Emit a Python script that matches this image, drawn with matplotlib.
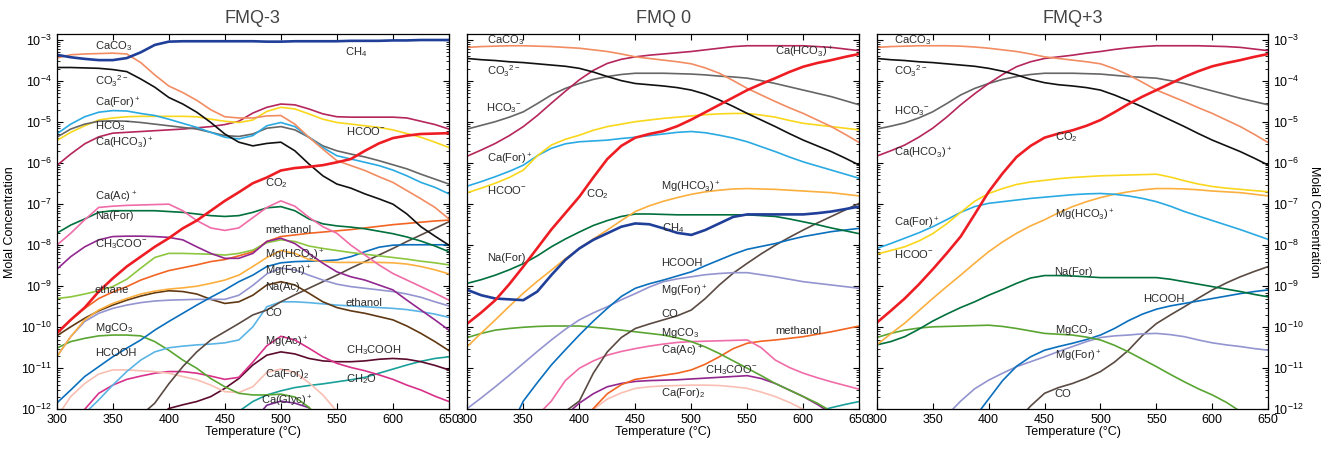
import numpy as np
import matplotlib.pyplot as plt
from matplotlib.ticker import LogLocator, NullFormatter, LogFormatterMathtext

plt.rcParams['font.family'] = ['Liberation Sans', 'DejaVu Sans']
plt.rcParams['mathtext.fontset'] = 'custom'
plt.rcParams['mathtext.rm'] = 'Liberation Sans'
plt.rcParams['mathtext.it'] = 'Liberation Sans:italic'
plt.rcParams['mathtext.bf'] = 'Liberation Sans:bold'

# temperatures (deg C); all species values below are log10 molal concentrations
temps = [300, 312.5, 325, 337.5, 350, 362.5, 375, 387.5, 400, 412.5, 425, 437.5, 450, 462.5, 475,
         487.5, 500, 512.5, 525, 537.5, 550, 562.5, 575, 587.5, 600, 612.5, 625, 637.5, 650]

# ---- FMQ-3 ----
ch4_a = [-3.36, -3.42, -3.46, -3.49, -3.49, -3.44, -3.30, -3.12, -3.04, -3.03, -3.03, -3.03, -3.03, -3.03, -3.03,
         -3.04, -3.04, -3.03, -3.03, -3.03, -3.03, -3.02, -3.02, -3.02, -3.01, -3.01, -3.00, -3.00, -3.00]
caco3_a = [-3.44, -3.36, -3.34, -3.33, -3.32, -3.34, -3.55, -3.85, -4.12, -4.28, -4.47, -4.70, -4.87, -4.90, -4.90,
           -4.85, -4.84, -5.05, -5.37, -5.66, -5.94, -6.06, -6.18, -6.33, -6.47, -6.67, -6.87, -7.08, -7.36]
co3_a = [-3.67, -3.67, -3.68, -3.69, -3.72, -3.77, -3.95, -4.15, -4.40, -4.56, -4.76, -5.01, -5.29, -5.49, -5.58,
         -5.52, -5.49, -5.70, -6.02, -6.31, -6.51, -6.61, -6.75, -6.87, -7.00, -7.24, -7.55, -7.78, -8.00]
cafor_a = [-5.29, -5.05, -4.87, -4.76, -4.72, -4.73, -4.79, -4.84, -4.93, -5.03, -5.13, -5.25, -5.37, -5.41, -5.33,
           -5.09, -5.01, -5.11, -5.37, -5.62, -5.82, -5.90, -5.98, -6.06, -6.17, -6.31, -6.47, -6.59, -6.75]
hco3_a = [-5.37, -5.17, -5.05, -4.98, -4.97, -4.98, -5.01, -5.05, -5.09, -5.13, -5.17, -5.25, -5.33, -5.35, -5.29,
          -5.15, -5.11, -5.19, -5.37, -5.58, -5.70, -5.78, -5.85, -5.94, -6.04, -6.14, -6.27, -6.39, -6.51]
hcoo_a = [-5.45, -5.25, -5.09, -4.95, -4.90, -4.87, -4.86, -4.86, -4.86, -4.86, -4.87, -4.93, -4.98, -5.01, -4.95,
          -4.74, -4.64, -4.68, -4.80, -4.93, -5.01, -5.05, -5.09, -5.13, -5.19, -5.28, -5.37, -5.49, -5.62]
cahco3_a = [-6.06, -5.78, -5.53, -5.36, -5.27, -5.25, -5.23, -5.21, -5.19, -5.17, -5.14, -5.11, -5.06, -4.98, -4.78,
            -4.64, -4.56, -4.58, -4.68, -4.80, -4.87, -4.88, -4.88, -4.88, -4.88, -4.90, -4.98, -5.06, -5.17]
co2_a = [-10.15, -9.82, -9.52, -9.13, -8.81, -8.52, -8.28, -8.04, -7.83, -7.59, -7.40, -7.16, -6.92, -6.71, -6.49,
         -6.35, -6.18, -6.12, -6.09, -6.05, -5.98, -5.90, -5.70, -5.52, -5.39, -5.33, -5.29, -5.28, -5.27]
caac_a = [-8.00, -7.71, -7.38, -7.08, -7.05, -7.03, -7.02, -7.01, -7.00, -7.16, -7.40, -7.58, -7.64, -7.58, -7.33,
          -7.08, -6.92, -7.05, -7.32, -7.55, -7.71, -8.00, -8.24, -8.48, -8.69, -8.85, -9.01, -9.17, -9.34]
nafor_a = [-7.71, -7.51, -7.36, -7.20, -7.16, -7.16, -7.16, -7.16, -7.18, -7.20, -7.24, -7.28, -7.30, -7.28, -7.20,
           -7.09, -7.06, -7.16, -7.36, -7.48, -7.53, -7.56, -7.60, -7.66, -7.72, -7.80, -7.90, -8.02, -8.16]
ch3coo_a = [-8.59, -8.28, -8.04, -7.87, -7.79, -7.78, -7.78, -7.79, -7.81, -7.87, -8.04, -8.20, -8.32, -8.32, -8.20,
            -7.91, -7.83, -7.96, -8.20, -8.44, -8.65, -8.77, -8.85, -8.97, -9.09, -9.34, -9.58, -9.82, -10.07]
ethane_a = [-9.30, -9.26, -9.19, -9.11, -9.01, -8.83, -8.56, -8.30, -8.20, -8.20, -8.21, -8.22, -8.24, -8.20, -8.12,
            -7.94, -7.87, -7.91, -8.02, -8.08, -8.13, -8.18, -8.22, -8.26, -8.30, -8.34, -8.39, -8.43, -8.48]
methanol_a = [-10.15, -9.82, -9.54, -9.30, -9.14, -9.01, -8.85, -8.73, -8.62, -8.55, -8.48, -8.40, -8.35, -8.26, -8.16,
              -7.91, -7.79, -7.75, -7.71, -7.68, -7.65, -7.62, -7.58, -7.54, -7.50, -7.47, -7.44, -7.41, -7.39]
mghco3_a = [-10.72, -10.23, -9.82, -9.58, -9.42, -9.30, -9.19, -9.12, -9.07, -9.04, -9.00, -8.93, -8.85, -8.73, -8.52,
            -8.30, -8.13, -8.20, -8.35, -8.40, -8.42, -8.42, -8.42, -8.42, -8.43, -8.46, -8.52, -8.60, -8.70]
hcooh_a = [-11.85, -11.53, -11.20, -10.96, -10.72, -10.51, -10.31, -10.07, -9.86, -9.66, -9.46, -9.27, -9.09, -8.89, -8.73,
           -8.52, -8.43, -8.40, -8.39, -8.38, -8.36, -8.28, -8.16, -8.05, -8.00, -7.99, -7.99, -7.99, -7.99]
mgfor_a = [-10.72, -10.23, -9.86, -9.66, -9.54, -9.46, -9.40, -9.36, -9.34, -9.33, -9.32, -9.32, -9.32, -9.22, -8.98,
           -8.70, -8.56, -8.60, -8.73, -8.85, -8.95, -9.01, -9.05, -9.09, -9.13, -9.19, -9.27, -9.38, -9.48]
naac_a = [-10.21, -9.99, -9.78, -9.60, -9.46, -9.34, -9.24, -9.16, -9.11, -9.13, -9.19, -9.32, -9.42, -9.38, -9.22,
          -8.97, -8.89, -8.97, -9.17, -9.38, -9.52, -9.60, -9.66, -9.74, -9.82, -9.97, -10.15, -10.35, -10.57]
co_a = [-14.60, -14.20, -13.80, -13.40, -13.00, -12.60, -12.15, -11.85, -11.38, -10.96, -10.60, -10.31, -10.11, -9.91, -9.70,
        -9.58, -9.38, -9.21, -9.05, -8.89, -8.73, -8.56, -8.40, -8.24, -8.08, -7.91, -7.75, -7.59, -7.43]
ethanol_a = [-13.50, -13.00, -12.10, -11.77, -11.41, -11.08, -10.80, -10.60, -10.50, -10.46, -10.43, -10.41, -10.38, -10.31, -9.99,
             -9.50, -9.38, -9.38, -9.40, -9.43, -9.46, -9.48, -9.50, -9.52, -9.54, -9.57, -9.62, -9.68, -9.76]
mgco3_a = [-10.51, -10.35, -10.27, -10.21, -10.19, -10.19, -10.21, -10.35, -10.56, -10.80, -11.00, -11.25, -11.45, -11.61, -11.65,
           -11.65, -11.63, -11.70, -11.95, -12.30, -12.70, -13.10, -13.50, -13.90, -14.30, -14.70, -15.10, -15.50, -15.90]
cafor2_a = [-12.20, -11.69, -11.37, -11.14, -11.04, -11.04, -11.06, -11.08, -11.12, -11.20, -11.28, -11.41, -11.57, -11.59, -11.45,
            -11.10, -11.02, -11.10, -11.35, -11.65, -12.05, -12.50, -12.90, -13.40, -13.90, -14.40, -14.90, -15.40, -15.90]
mgac_a = [-13.00, -12.50, -12.00, -11.61, -11.41, -11.27, -11.19, -11.12, -11.08, -11.08, -11.12, -11.19, -11.27, -11.22, -10.85,
          -10.45, -10.22, -10.31, -10.51, -10.72, -10.88, -10.98, -11.06, -11.16, -11.27, -11.41, -11.53, -11.68, -11.81]
ch3cooh_a = [-15.00, -14.60, -14.20, -13.80, -13.40, -13.00, -12.60, -12.25, -11.98, -11.89, -11.81, -11.69, -11.49, -11.25, -10.92,
             -10.68, -10.60, -10.65, -10.76, -10.82, -10.84, -10.84, -10.82, -10.78, -10.76, -10.78, -10.84, -10.93, -11.04]
ch2o_a = [-16.00, -15.60, -15.20, -14.80, -14.40, -14.00, -13.60, -13.20, -13.00, -12.95, -12.90, -12.65, -12.40, -12.05, -11.81,
          -11.65, -11.55, -11.47, -11.42, -11.38, -11.33, -11.28, -11.22, -11.12, -11.02, -10.92, -10.83, -10.76, -10.72]
caglyc_a = [-17.00, -16.60, -16.20, -15.80, -15.40, -15.00, -14.60, -14.20, -13.80, -13.40, -13.00, -12.80, -12.70, -12.60, -12.30,
            -11.90, -11.80, -11.85, -11.96, -12.40, -12.90, -13.40, -13.90, -14.40, -14.90, -15.40, -15.90, -16.40, -16.90]

# ---- FMQ 0 ----
caco3_b = [-3.18, -3.16, -3.15, -3.14, -3.14, -3.15, -3.16, -3.18, -3.20, -3.24, -3.28, -3.34, -3.41, -3.45, -3.49,
           -3.53, -3.58, -3.68, -3.81, -3.99, -4.18, -4.34, -4.50, -4.65, -4.79, -4.95, -5.11, -5.30, -5.50]
co3_b = [-3.45, -3.48, -3.50, -3.53, -3.55, -3.58, -3.61, -3.64, -3.69, -3.78, -3.89, -3.99, -4.06, -4.09, -4.12,
         -4.16, -4.22, -4.32, -4.46, -4.62, -4.79, -4.95, -5.11, -5.28, -5.44, -5.58, -5.72, -5.88, -6.05]
cahco3_b = [-5.83, -5.68, -5.52, -5.33, -5.11, -4.84, -4.54, -4.25, -3.97, -3.74, -3.57, -3.47, -3.41, -3.37, -3.34,
            -3.31, -3.28, -3.24, -3.20, -3.16, -3.14, -3.14, -3.14, -3.14, -3.14, -3.16, -3.18, -3.22, -3.26]
hco3_b = [-5.17, -5.08, -4.99, -4.88, -4.75, -4.55, -4.34, -4.18, -4.06, -3.96, -3.89, -3.84, -3.81, -3.81, -3.81,
          -3.82, -3.83, -3.85, -3.88, -3.90, -3.93, -3.99, -4.06, -4.14, -4.22, -4.30, -4.38, -4.48, -4.58]
hcoo_b = [-6.72, -6.61, -6.49, -6.35, -6.17, -5.82, -5.56, -5.42, -5.32, -5.20, -5.11, -5.05, -4.99, -4.95, -4.91,
          -4.88, -4.85, -4.82, -4.80, -4.79, -4.79, -4.83, -4.88, -4.96, -5.03, -5.07, -5.11, -5.15, -5.19]
cafor_b = [-6.56, -6.45, -6.33, -6.20, -6.05, -5.82, -5.64, -5.53, -5.48, -5.46, -5.44, -5.40, -5.37, -5.33, -5.29,
           -5.25, -5.23, -5.26, -5.32, -5.39, -5.48, -5.60, -5.72, -5.85, -5.97, -6.07, -6.17, -6.27, -6.37]
co2_b = [-9.91, -9.64, -9.34, -8.95, -8.52, -8.07, -7.62, -7.22, -6.82, -6.35, -5.90, -5.58, -5.38, -5.29, -5.22,
         -5.10, -4.94, -4.76, -4.58, -4.40, -4.22, -4.07, -3.93, -3.78, -3.65, -3.56, -3.49, -3.41, -3.34]
mghco3_b = [-10.47, -10.14, -9.82, -9.49, -9.17, -8.88, -8.61, -8.33, -8.08, -7.85, -7.63, -7.40, -7.18, -7.04, -6.93,
            -6.84, -6.76, -6.70, -6.66, -6.63, -6.62, -6.63, -6.64, -6.66, -6.68, -6.70, -6.72, -6.76, -6.80]
nafor_b = [-8.93, -8.84, -8.73, -8.60, -8.45, -8.26, -8.04, -7.85, -7.68, -7.52, -7.40, -7.30, -7.24, -7.24, -7.25,
           -7.26, -7.26, -7.26, -7.26, -7.26, -7.26, -7.28, -7.30, -7.36, -7.43, -7.50, -7.58, -7.65, -7.72]
ch4_b = [-9.09, -9.22, -9.30, -9.32, -9.34, -9.13, -8.73, -8.36, -8.08, -7.87, -7.71, -7.55, -7.47, -7.49, -7.59,
         -7.70, -7.75, -7.63, -7.47, -7.31, -7.25, -7.25, -7.25, -7.25, -7.25, -7.22, -7.18, -7.12, -7.06]
hcooh_b = [-14.40, -13.80, -13.20, -12.50, -11.80, -11.35, -10.92, -10.55, -10.19, -9.85, -9.54, -9.25, -9.05, -8.94, -8.85,
           -8.75, -8.65, -8.50, -8.36, -8.22, -8.10, -8.03, -7.96, -7.87, -7.79, -7.73, -7.67, -7.63, -7.59]
mgfor_b = [-11.98, -11.72, -11.45, -11.17, -10.88, -10.59, -10.31, -10.05, -9.82, -9.65, -9.50, -9.33, -9.18, -9.02, -8.89,
           -8.82, -8.77, -8.72, -8.69, -8.67, -8.67, -8.72, -8.77, -8.83, -8.89, -8.93, -8.97, -9.01, -9.05]
co_b = [-16.00, -15.60, -15.20, -14.80, -14.40, -13.50, -12.60, -12.05, -11.80, -11.12, -10.60, -10.25, -10.03, -9.92, -9.82,
        -9.72, -9.58, -9.30, -8.97, -8.68, -8.44, -8.21, -8.00, -7.81, -7.63, -7.46, -7.30, -7.14, -6.98]
mgco3_b = [-10.25, -10.15, -10.07, -10.03, -10.00, -9.98, -9.97, -9.97, -9.97, -10.00, -10.03, -10.07, -10.11, -10.15, -10.19,
           -10.26, -10.35, -10.48, -10.64, -10.82, -11.00, -11.18, -11.37, -11.53, -11.69, -11.85, -12.05, -12.30, -12.60]
caac_b = [-14.50, -14.00, -13.50, -13.00, -12.50, -12.15, -11.80, -11.30, -11.00, -10.82, -10.68, -10.59, -10.52, -10.46, -10.41,
          -10.37, -10.35, -10.34, -10.33, -10.32, -10.31, -10.50, -10.80, -10.98, -11.12, -11.23, -11.33, -11.42, -11.51]
methanol_b = [-16.00, -15.60, -15.20, -14.80, -14.40, -14.00, -13.60, -12.80, -12.40, -11.98, -11.62, -11.40, -11.27, -11.22, -11.17,
              -11.12, -11.04, -10.90, -10.72, -10.52, -10.39, -10.34, -10.31, -10.27, -10.23, -10.17, -10.11, -10.04, -9.97]
ch3coo_b = [-16.00, -15.60, -15.20, -14.80, -14.40, -13.50, -12.60, -12.15, -11.85, -11.62, -11.45, -11.37, -11.32, -11.30, -11.29,
            -11.28, -11.26, -11.24, -11.22, -11.20, -11.18, -11.25, -11.37, -11.53, -11.69, -11.88, -12.10, -12.30, -12.50]
cafor2_b = [-16.00, -15.60, -15.20, -14.80, -14.40, -14.00, -13.20, -12.70, -12.30, -12.00, -11.75, -11.60, -11.49, -11.45, -11.43,
            -11.42, -11.41, -11.41, -11.42, -11.45, -11.49, -11.58, -11.69, -11.83, -12.00, -12.25, -12.50, -12.75, -13.00]
ch2o_b = [-17.00, -16.70, -16.40, -16.10, -15.80, -15.50, -15.20, -14.90, -14.60, -14.30, -14.00, -13.70, -13.40, -13.20, -13.00,
          -12.90, -12.80, -12.70, -12.60, -12.55, -12.50, -12.45, -12.40, -12.30, -12.20, -12.05, -11.96, -11.88, -11.81]

# ---- FMQ+3 ----
caco3_c = [-3.18, -3.16, -3.15, -3.14, -3.14, -3.14, -3.15, -3.17, -3.20, -3.24, -3.28, -3.34, -3.41, -3.45, -3.49,
           -3.53, -3.58, -3.70, -3.85, -4.03, -4.22, -4.36, -4.50, -4.65, -4.79, -4.95, -5.11, -5.30, -5.50]
co3_c = [-3.45, -3.48, -3.50, -3.53, -3.55, -3.58, -3.61, -3.64, -3.69, -3.76, -3.85, -3.96, -4.04, -4.09, -4.12,
         -4.16, -4.22, -4.34, -4.48, -4.63, -4.79, -4.95, -5.11, -5.28, -5.44, -5.58, -5.72, -5.88, -6.05]
cahco3_c = [-5.83, -5.70, -5.56, -5.37, -5.15, -4.88, -4.58, -4.31, -4.06, -3.84, -3.65, -3.53, -3.45, -3.41, -3.37,
            -3.32, -3.28, -3.23, -3.19, -3.16, -3.14, -3.14, -3.14, -3.14, -3.15, -3.16, -3.18, -3.22, -3.26]
hco3_c = [-5.17, -5.10, -5.02, -4.90, -4.75, -4.55, -4.34, -4.18, -4.06, -3.96, -3.89, -3.84, -3.81, -3.81, -3.81,
          -3.82, -3.83, -3.86, -3.89, -3.91, -3.93, -3.99, -4.06, -4.15, -4.24, -4.33, -4.42, -4.50, -4.58]
co2_c = [-9.89, -9.60, -9.30, -8.96, -8.59, -8.20, -7.79, -7.25, -6.70, -6.25, -5.85, -5.58, -5.38, -5.28, -5.20,
         -5.09, -4.95, -4.76, -4.56, -4.38, -4.22, -4.06, -3.90, -3.76, -3.64, -3.56, -3.49, -3.41, -3.34]
hcoo_c = [-8.22, -8.13, -8.04, -7.90, -7.72, -7.48, -7.20, -6.93, -6.74, -6.62, -6.52, -6.46, -6.42, -6.38, -6.35,
          -6.33, -6.31, -6.30, -6.29, -6.28, -6.27, -6.34, -6.43, -6.51, -6.57, -6.61, -6.64, -6.67, -6.70]
cafor_c = [-8.08, -7.96, -7.83, -7.70, -7.55, -7.38, -7.20, -7.06, -6.98, -6.94, -6.90, -6.86, -6.83, -6.80, -6.77,
           -6.75, -6.74, -6.76, -6.80, -6.86, -6.94, -7.05, -7.18, -7.29, -7.40, -7.51, -7.62, -7.74, -7.86]
mghco3_c = [-10.43, -10.16, -9.90, -9.60, -9.30, -9.01, -8.73, -8.44, -8.16, -7.92, -7.71, -7.53, -7.38, -7.21, -7.06,
            -6.94, -6.84, -6.76, -6.70, -6.65, -6.62, -6.62, -6.63, -6.65, -6.68, -6.70, -6.72, -6.76, -6.80]
nafor_c = [-10.43, -10.35, -10.23, -10.05, -9.85, -9.68, -9.52, -9.38, -9.22, -9.08, -8.93, -8.80, -8.74, -8.74, -8.75,
           -8.77, -8.79, -8.79, -8.79, -8.79, -8.79, -8.83, -8.89, -8.95, -9.01, -9.07, -9.13, -9.20, -9.26]
mgco3_c = [-10.25, -10.15, -10.07, -10.02, -9.99, -9.98, -9.97, -9.96, -9.95, -9.98, -10.03, -10.09, -10.15, -10.17, -10.19,
           -10.24, -10.31, -10.44, -10.60, -10.78, -10.96, -11.15, -11.33, -11.50, -11.65, -11.83, -12.05, -12.20, -12.40]
hcooh_c = [-15.00, -14.60, -14.20, -13.80, -13.40, -13.00, -12.60, -12.20, -11.75, -11.30, -10.95, -10.72, -10.56, -10.47, -10.39,
           -10.30, -10.19, -10.03, -9.84, -9.68, -9.56, -9.48, -9.42, -9.36, -9.30, -9.24, -9.18, -9.13, -9.09]
mgfor_c = [-14.50, -14.00, -13.50, -13.00, -12.60, -12.15, -11.80, -11.50, -11.29, -11.12, -10.96, -10.84, -10.72, -10.59, -10.47,
           -10.35, -10.25, -10.21, -10.19, -10.16, -10.15, -10.18, -10.23, -10.31, -10.38, -10.43, -10.47, -10.52, -10.56]
co_c = [-16.00, -15.60, -15.20, -14.80, -14.40, -14.00, -13.60, -13.30, -13.10, -12.70, -12.30, -11.92, -11.61, -11.47, -11.37,
        -11.24, -11.08, -10.85, -10.56, -10.20, -9.91, -9.70, -9.50, -9.29, -9.09, -8.92, -8.77, -8.64, -8.52]

colors = {
    'CH4': '#1f3f99', 'CaCO3': '#f28c62', 'CO3': '#111111', 'CaFor': '#2aaae2',
    'HCO3': '#666666', 'HCOO': '#f9d71c', 'CaHCO3': '#b5265b', 'CO2': '#ee1d23',
    'CaAc': '#f06ca8', 'NaFor': '#00703c', 'CH3COO': '#92278f', 'ethane': '#8dc63f',
    'methanol': '#f26522', 'MgHCO3': '#fbaf3f', 'HCOOH': '#0a6fbd', 'MgFor': '#9494d0',
    'NaAc': '#603913', 'CO': '#5a4a42', 'ethanol': '#5ab4e5', 'MgCO3': '#5aa532',
    'CaFor2': '#f9bfb3', 'MgAc': '#d8318a', 'CH3COOH': '#5c0a2e', 'CH2O': '#1aa09b',
    'CaGlyc': '#7b2a92',
}

series_a = [
    (caglyc_a, 'CaGlyc'), (ch2o_a, 'CH2O'), (ch3cooh_a, 'CH3COOH'), (mgac_a, 'MgAc'),
    (cafor2_a, 'CaFor2'), (mgco3_a, 'MgCO3'), (ethanol_a, 'ethanol'), (co_a, 'CO'),
    (naac_a, 'NaAc'), (mgfor_a, 'MgFor'), (hcooh_a, 'HCOOH'), (mghco3_a, 'MgHCO3'),
    (methanol_a, 'methanol'), (ethane_a, 'ethane'), (ch3coo_a, 'CH3COO'), (nafor_a, 'NaFor'),
    (caac_a, 'CaAc'), (cahco3_a, 'CaHCO3'), (hcoo_a, 'HCOO'), (hco3_a, 'HCO3'),
    (cafor_a, 'CaFor'), (co3_a, 'CO3'), (caco3_a, 'CaCO3'), (co2_a, 'CO2'), (ch4_a, 'CH4'),
]
series_b = [
    (ch2o_b, 'CH2O'), (cafor2_b, 'CaFor2'), (ch3coo_b, 'CH3COO'), (methanol_b, 'methanol'),
    (caac_b, 'CaAc'), (mgco3_b, 'MgCO3'), (co_b, 'CO'), (mgfor_b, 'MgFor'), (hcooh_b, 'HCOOH'),
    (nafor_b, 'NaFor'), (mghco3_b, 'MgHCO3'), (cafor_b, 'CaFor'), (hcoo_b, 'HCOO'),
    (hco3_b, 'HCO3'), (cahco3_b, 'CaHCO3'), (co3_b, 'CO3'), (caco3_b, 'CaCO3'),
    (ch4_b, 'CH4'), (co2_b, 'CO2'),
]
series_c = [
    (co_c, 'CO'), (mgfor_c, 'MgFor'), (hcooh_c, 'HCOOH'), (mgco3_c, 'MgCO3'), (nafor_c, 'NaFor'),
    (mghco3_c, 'MgHCO3'), (cafor_c, 'CaFor'), (hcoo_c, 'HCOO'), (hco3_c, 'HCO3'),
    (cahco3_c, 'CaHCO3'), (co3_c, 'CO3'), (caco3_c, 'CaCO3'), (co2_c, 'CO2'),
]

# species labels: text, temperature of left edge, log10 concentration of centre
labels_a = [
    ('CaCO$_3$', 334, -3.15), ('CH$_4$', 557, -3.29), ('CO$_3$$^{2-}$', 334, -4.0),
    ('Ca(For)$^+$', 334, -4.54), ('HCO$_3$$^{-}$', 334, -5.1), ('Ca(HCO$_3$)$^+$', 334, -5.53),
    ('HCOO$^{-}$', 558, -5.22), ('CO$_2$', 486, -6.49), ('Ca(Ac)$^+$', 334, -6.83),
    ('Na(For)', 334, -7.29), ('methanol', 486, -7.63), ('CH$_3$COO$^{-}$', 334, -7.97),
    ('Mg(HCO$_3$)$^+$', 486, -8.26), ('Mg(For)$^+$', 486, -8.65), ('Na(Ac)', 486, -9.02),
    ('ethane', 334, -9.09), ('ethanol', 558, -9.41), ('CO', 486, -9.65),
    ('MgCO$_3$', 334, -10.02), ('HCOOH', 334, -10.63), ('Mg(Ac)$^+$', 486, -10.36),
    ('CH$_3$COOH', 558, -10.56), ('Ca(For)$_2$', 486, -11.14), ('CH$_2$O', 558, -11.26),
    ('Ca(Glyc)$^+$', 482, -11.8),
]
labels_b = [
    ('CaCO$_3$', 318, -3.0), ('CO$_3$$^{2-}$', 318, -3.76), ('Ca(HCO$_3$)$^+$', 575, -3.29),
    ('HCO$_3$$^{-}$', 317, -4.66), ('Ca(For)$^+$', 318, -5.92), ('HCOO$^{-}$', 318, -6.66),
    ('CO$_2$', 406, -6.75), ('Mg(HCO$_3$)$^+$', 473, -6.58), ('CH$_4$', 474, -7.58),
    ('Na(For)', 318, -8.31), ('HCOOH', 473, -8.43), ('Mg(For)$^+$', 473, -9.12),
    ('CO', 473, -9.68), ('MgCO$_3$', 473, -10.14), ('methanol', 575, -10.09),
    ('Ca(Ac)$^+$', 473, -10.58), ('CH$_3$COO$^{-}$', 512, -11.05), ('Ca(For)$_2$', 473, -11.6),
]
labels_c = [
    ('CaCO$_3$', 315, -3.0), ('CO$_3$$^{2-}$', 315, -3.76), ('HCO$_3$$^{-}$', 315, -4.73),
    ('Ca(HCO$_3$)$^+$', 315, -5.76), ('CO$_2$', 459, -5.37), ('Ca(For)$^+$', 315, -7.46),
    ('Mg(HCO$_3$)$^+$', 459, -7.27), ('HCOO$^{-}$', 315, -8.22), ('Na(For)', 459, -8.65),
    ('HCOOH', 538, -9.31), ('MgCO$_3$', 459, -10.07), ('Mg(For)$^+$', 459, -10.70),
    ('CO', 459, -11.63),
]

fig = plt.figure(figsize=(13.31, 4.5), dpi=100)
ax_a = fig.add_axes([0.0426, 0.0904, 0.2947, 0.834])
ax_b = fig.add_axes([0.3511, 0.0904, 0.2945, 0.834])
ax_c = fig.add_axes([0.6587, 0.0904, 0.2942, 0.834])


def draw_panel(ax, series, labels, title):
    for vals, key in series:
        lw = 1.9 if key in ('CO2', 'CH4') else 1.2
        ax.plot(temps, 10.0 ** np.array(vals), color=colors[key], lw=lw, solid_joinstyle='round')
    for txt, t, e in labels:
        ax.text(t, 10.0 ** e, txt, fontsize=8, ha='left', va='center', color='#2a2a2a')
    ax.set_yscale('log')
    ax.set_xlim(300, 650)
    ax.set_ylim(1e-12, 10 ** -2.854)
    ax.set_xticks(range(300, 651, 50))
    ax.yaxis.set_major_locator(LogLocator(base=10, numticks=20))
    ax.yaxis.set_minor_locator(LogLocator(base=10, subs=np.arange(2, 10), numticks=20))
    ax.yaxis.set_major_formatter(LogFormatterMathtext())
    ax.yaxis.set_minor_formatter(NullFormatter())
    ax.tick_params(which='both', direction='in', top=True, right=True, labelsize=9)
    ax.tick_params(which='major', length=4)
    ax.tick_params(which='minor', length=2)
    ax.set_xlabel('Temperature (°C)', fontsize=9, labelpad=0)
    ax.set_title(title, fontsize=13, color='#444444', pad=8)
    for s in ax.spines.values():
        s.set_linewidth(0.9)


draw_panel(ax_a, series_a, labels_a, 'FMQ-3')
draw_panel(ax_b, series_b, labels_b, 'FMQ 0')
draw_panel(ax_c, series_c, labels_c, 'FMQ+3')

ax_a.set_ylabel('Molal Concentration', fontsize=9)
ax_b.tick_params(labelleft=False)
ax_c.tick_params(labelleft=False, labelright=True)
ax_c.yaxis.set_label_position('right')
ax_c.set_ylabel('Molal Concentration', fontsize=9, rotation=270, labelpad=12)

fig.savefig('out.png', dpi=100)
